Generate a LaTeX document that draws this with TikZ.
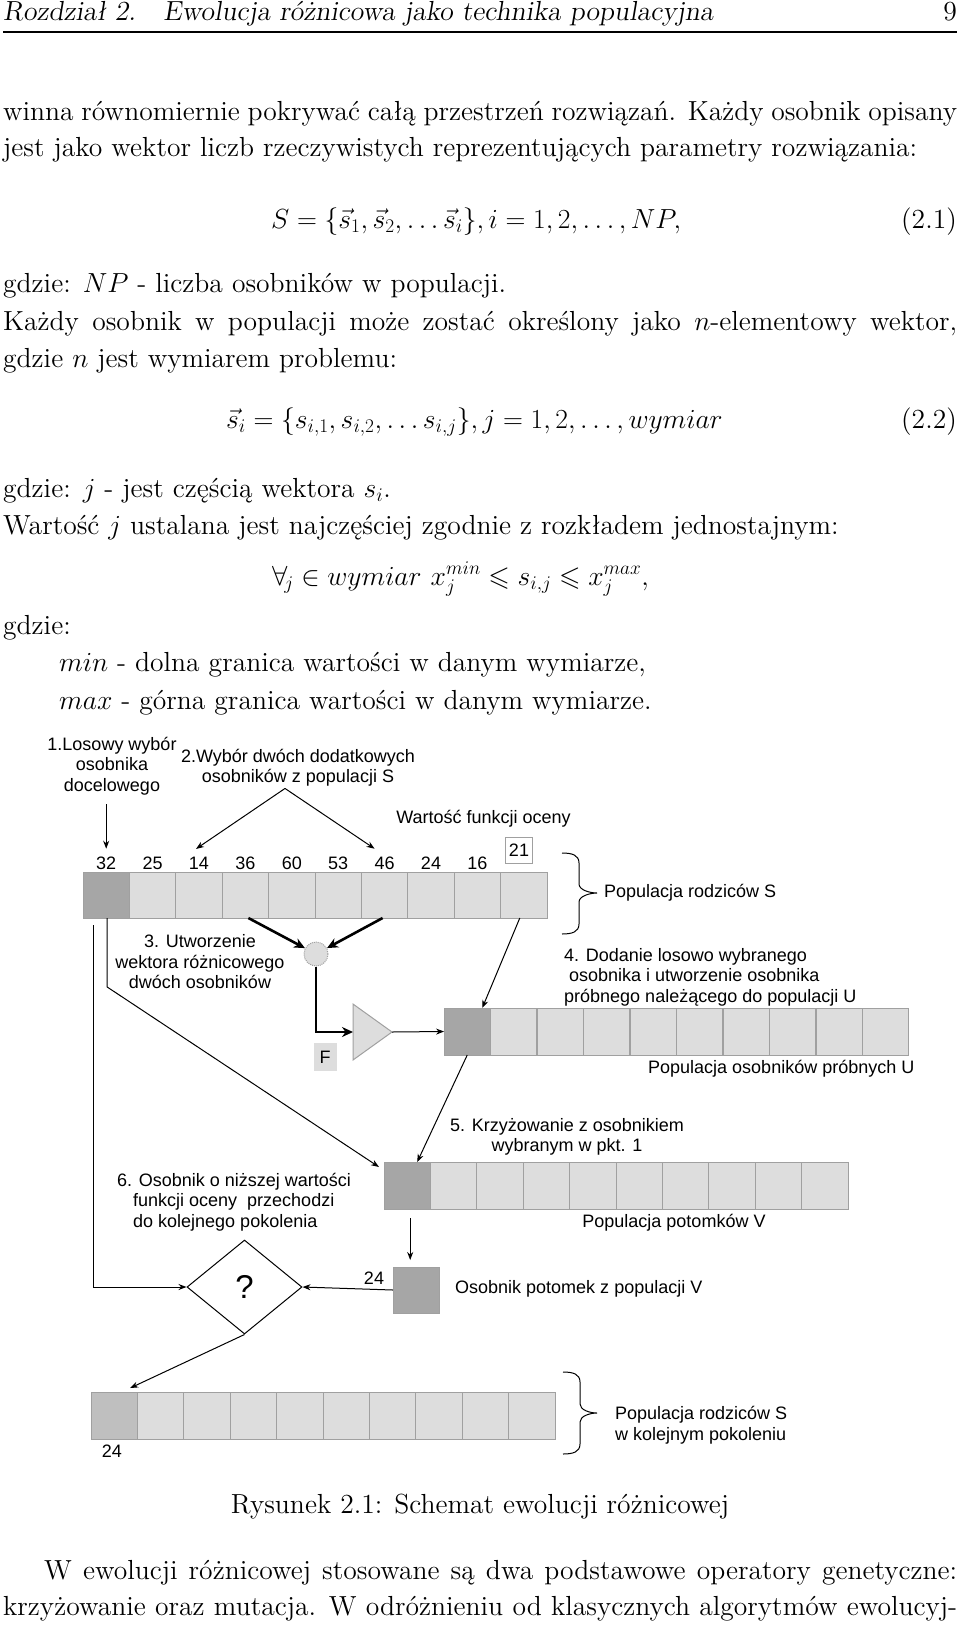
\RequirePackage{fix-cm}
\documentclass[tikz,border=0pt]{standalone}
\usepackage{amssymb}
\usepackage{fontspec}
\setmainfont{lmroman12-regular}[Extension=.otf,ItalicFont=lmroman12-italic,SlantedFont=lmromanslant12-regular,BoldFont=lmroman12-bold]
\newfontfamily\diagfont{Liberation Sans}
\usetikzlibrary{arrows.meta,shapes.geometric}
\definecolor{jasny}{HTML}{DDDDDD}
\definecolor{ciemny}{HTML}{A6A6A6}
\definecolor{sredni}{HTML}{BFBFBF}
\definecolor{linia}{HTML}{A0A0A0}
\tikzset{
  tekst/.style={anchor=base west,inner sep=0pt,font=\fontsize{27.6}{37.5}\selectfont},
  opis/.style={inner sep=0pt,align=center,font=\diagfont\fontsize{18}{20.5}\selectfont},
  komorka/.style={fill=jasny,draw=linia,line width=1pt,minimum width=46.4pt,minimum height=46pt,inner sep=0pt,outer sep=0pt},
  strz/.style={-{Stealth[length=8pt,width=6pt]},line width=1pt},
  gruba/.style={-{Stealth[length=11pt,width=10pt]},line width=2.6pt},
  klamra/.style={line width=1pt}
}
\begin{document}
\begin{tikzpicture}[x=1pt,y=-1pt]
            \fill[white] (0,0) rectangle (960,1625);
            \useasboundingbox (0,0) rectangle (960,1625);
            % Naglowek
            \node[tekst] (naglowek) at (3,20) {\slshape Rozdział 2.\quad Ewolucja różnicowa jako technika populacyjna};
            \node[tekst,anchor=base east] (strona) at (957,20) {9};
            \draw[line width=1.2pt] (3,32) -- (957,32);
            % Tekst
            \node[tekst] (w1) at (3,120) {\hbox to 954pt{winna równomiernie pokrywać całą przestrzeń rozwiązań. Każdy osobnik opisany}};
            \node[tekst] (w2) at (3,156.5) {jest jako wektor liczb rzeczywistych reprezentujących parametry rozwiązania:};
            \node[tekst] (r1) at (271,228) {$S=\{\vec{s}_1,\vec{s}_2,\ldots\vec{s}_i\},i=1,2,\ldots,NP,$};
            \node[tekst,anchor=base east] (nr1) at (957,228) {(2.1)};
            \node[tekst] (w3) at (3,292.5) {gdzie: $NP$ - liczba osobników w populacji.};
            \node[tekst] (w4) at (3,330) {\hbox to 954pt{Każdy osobnik w populacji może zostać określony jako $n$-elementowy wektor,}};
            \node[tekst] (w5) at (3,367.5) {gdzie $n$ jest wymiarem problemu:};
            \node[tekst] (r2) at (226,428) {$\vec{s}_i=\{s_{i,1},s_{i,2},\ldots s_{i,j}\},j=1,2,\ldots,wymiar$};
            \node[tekst,anchor=base east] (nr2) at (957,428) {(2.2)};
            \node[tekst] (w6) at (3,497) {gdzie: $j$ - jest częścią wektora $s_i$.};
            \node[tekst] (w7) at (3,534.5) {Wartość $j$ ustalana jest najczęściej zgodnie z rozkładem jednostajnym:};
            \node[tekst] (r3) at (272,585) {$\forall_{\!j}\in wymiar\ x_j^{min}\leqslant s_{i,j}\leqslant x_j^{max},$};
            \node[tekst] (w8) at (3,634) {gdzie:};
            \node[tekst] (w9) at (59,671.5) {$min$ - dolna granica wartości w danym wymiarze,};
            \node[tekst] (w10) at (59,709) {$max$ - górna granica wartości w danym wymiarze.};
            % Populacja S
            \foreach \i in {1,...,10}
              \node[komorka] (S\i) at ({83+46.4*(\i-0.5)},895) {};
            \node[komorka,fill=ciemny] at (S1) {};
            \foreach \v [count=\i] in {32,25,14,36,60,53,46,24,16}
              \node[opis,anchor=base] (n\i) at ({83+46.4*(\i-0.5)},869.5) {\v};
            \node[opis,draw=linia,line width=1pt,minimum width=27pt,minimum height=26pt] (n10) at (519,850) {21};
            \node[opis] (krok1) at (112,766) {1.Losowy wybór\\osobnika\\docelowego};
            \node[opis] (krok2) at (298,767.5) {2.Wybór dwóch dodatkowych\\osobników z populacji S};
            \node[opis] (ocena) at (483.5,819) {Wartość funkcji oceny};
            \draw[klamra] (562,853) .. controls (572,853) and (579,855) .. (579,863) -- (579,884)
              .. controls (579,890) and (590,893) .. (597,893) .. controls (590,893) and (579,896) .. (579,902)
              -- (579,924) .. controls (579,932) and (572,934) .. (562,934);
            \node[opis,anchor=west] (popS) at (604,893) {Populacja rodziców S};
            % Wektor roznicowy
            \node[circle,fill=jasny,draw=linia,densely dotted,line width=1pt,minimum size=24pt,inner sep=0pt] (roznica) at (316,954) {};
            \node[opis] (krok3) at (200,962) {3. Utworzenie\\wektora różnicowego\\dwóch osobników};
            \draw[fill=jasny,draw=linia,line width=1pt] (353,1004) -- (392,1032) -- (353,1060) -- cycle;
            \coordinate (wzm-we) at (353,1032);
            \coordinate (wzm-wy) at (392,1032);
            \node[opis,fill=jasny,minimum width=23pt,minimum height=28pt] (F) at (325,1057) {F};
            % Populacja U
            \foreach \i in {1,...,10}
              \node[komorka,minimum height=47pt] (U\i) at ({444+46.5*(\i-0.5)},1031.5) {};
            \node[komorka,minimum height=47pt,fill=ciemny] at (U1) {};
            \node[opis,align=left,anchor=west] (krok4) at (564,977) {4. Dodanie losowo wybranego\\\hspace*{5pt}osobnika i utworzenie osobnika\\próbnego należącego do populacji U};
            \node[opis,anchor=west] (popU) at (648,1069) {Populacja osobników próbnych U};
            % Populacja V
            \foreach \i in {1,...,10}
              \node[komorka,minimum height=47pt] (V\i) at ({384+46.4*(\i-0.5)},1185.5) {};
            \node[komorka,minimum height=47pt,fill=ciemny] at (V1) {};
            \node[opis] (krok5) at (567,1137) {5. Krzyżowanie z osobnikiem\\wybranym w pkt. 1};
            \node[opis] (popV) at (674,1223) {Populacja potomków V};
            % Selekcja
            \node[opis,align=left,anchor=west] (krok6) at (117,1202) {6. Osobnik o niższej wartości\\\hspace*{16pt}funkcji oceny~~przechodzi\\\hspace*{16pt}do kolejnego pokolenia};
            \node[komorka,fill=ciemny,minimum width=46pt] (potomek) at (416,1290) {};
            \node[opis,anchor=base] (ocena24) at (374,1284.5) {24};
            \node[opis,anchor=west] (popP) at (455,1289) {Osobnik potomek z populacji V};
            \node[draw,diamond,line width=1pt,minimum width=115pt,minimum height=94pt,inner sep=0pt,font=\diagfont\fontsize{33}{33}\selectfont] (decyzja) at (244.5,1287) {?};
            % Nowa populacja S
            \foreach \i in {1,...,10}
              \node[komorka,minimum height=47pt] (N\i) at ({91+46.4*(\i-0.5)},1415.5) {};
            \node[komorka,minimum height=47pt,fill=sredni] at (N1) {};
            \node[opis,anchor=base] (nowa24) at (112,1457.5) {24};
            \draw[klamra] (563,1372) .. controls (573,1372) and (580,1374) .. (580,1382) -- (580,1404)
              .. controls (580,1410) and (590,1413) .. (597,1413) .. controls (590,1413) and (580,1416) .. (580,1422)
              -- (580,1444) .. controls (580,1452) and (573,1454) .. (563,1454);
            \node[opis,align=left,anchor=west] (popN) at (615,1425) {Populacja rodziców S\\w kolejnym pokoleniu};
            % Strzalki
            \draw[strz] ([yshift=-9pt]krok1.south -| n1.north) -- ([yshift=8pt]n1.north);
            \draw[strz] ([xshift=-13pt,yshift=-2pt]krok2.south) -- ([xshift=-3pt,yshift=8pt]n3.north);
            \draw[strz] ([xshift=-13pt,yshift=-2pt]krok2.south) -- ([xshift=-10pt,yshift=8pt]n7.north);
            \draw[gruba] ([xshift=3pt]S4.south) -- (roznica);
            \draw[gruba] ([xshift=-2pt]S7.south) -- (roznica);
            \draw[gruba] (roznica.south) |- (wzm-we);
            \draw[strz] (wzm-wy) -- (U1.west);
            \draw[strz] ([xshift=-4pt]S10.south) -- ([xshift=15pt]U1.north);
            \draw[strz] (U1.south) -- ([xshift=10pt]V1.north);
            \draw[strz] ([xshift=1pt]S1.south) -- ++(0,69) -- ([xshift=-5pt,yshift=-5pt]V1.north west);
            \draw[strz] ([xshift=-13pt,yshift=-7pt]S1.south) |- (decyzja.west);
            \draw[strz,shorten <=9pt,shorten >=7pt] ([xshift=3pt]V1.south) -- ([xshift=3pt]V1.south |- potomek.north);
            \draw[strz] (potomek.west) -- (decyzja.east);
            \draw[strz] (decyzja.south) -- ([xshift=16pt,yshift=4pt]N1.north);
            % Podpis
            \node[tekst,anchor=base] (podpis) at (480,1513) {Rysunek 2.1: Schemat ewolucji różnicowej};
            \node[tekst] (w11) at (44,1579) {\hbox to 913pt{W ewolucji różnicowej stosowane są dwa podstawowe operatory genetyczne:}};
            \node[tekst] (w12) at (3,1615.5) {\hbox to 954pt{krzyżowanie oraz mutacja. W odróżnieniu od klasycznych algorytmów ewolucyj-}};
        \end{tikzpicture}
\end{document}
